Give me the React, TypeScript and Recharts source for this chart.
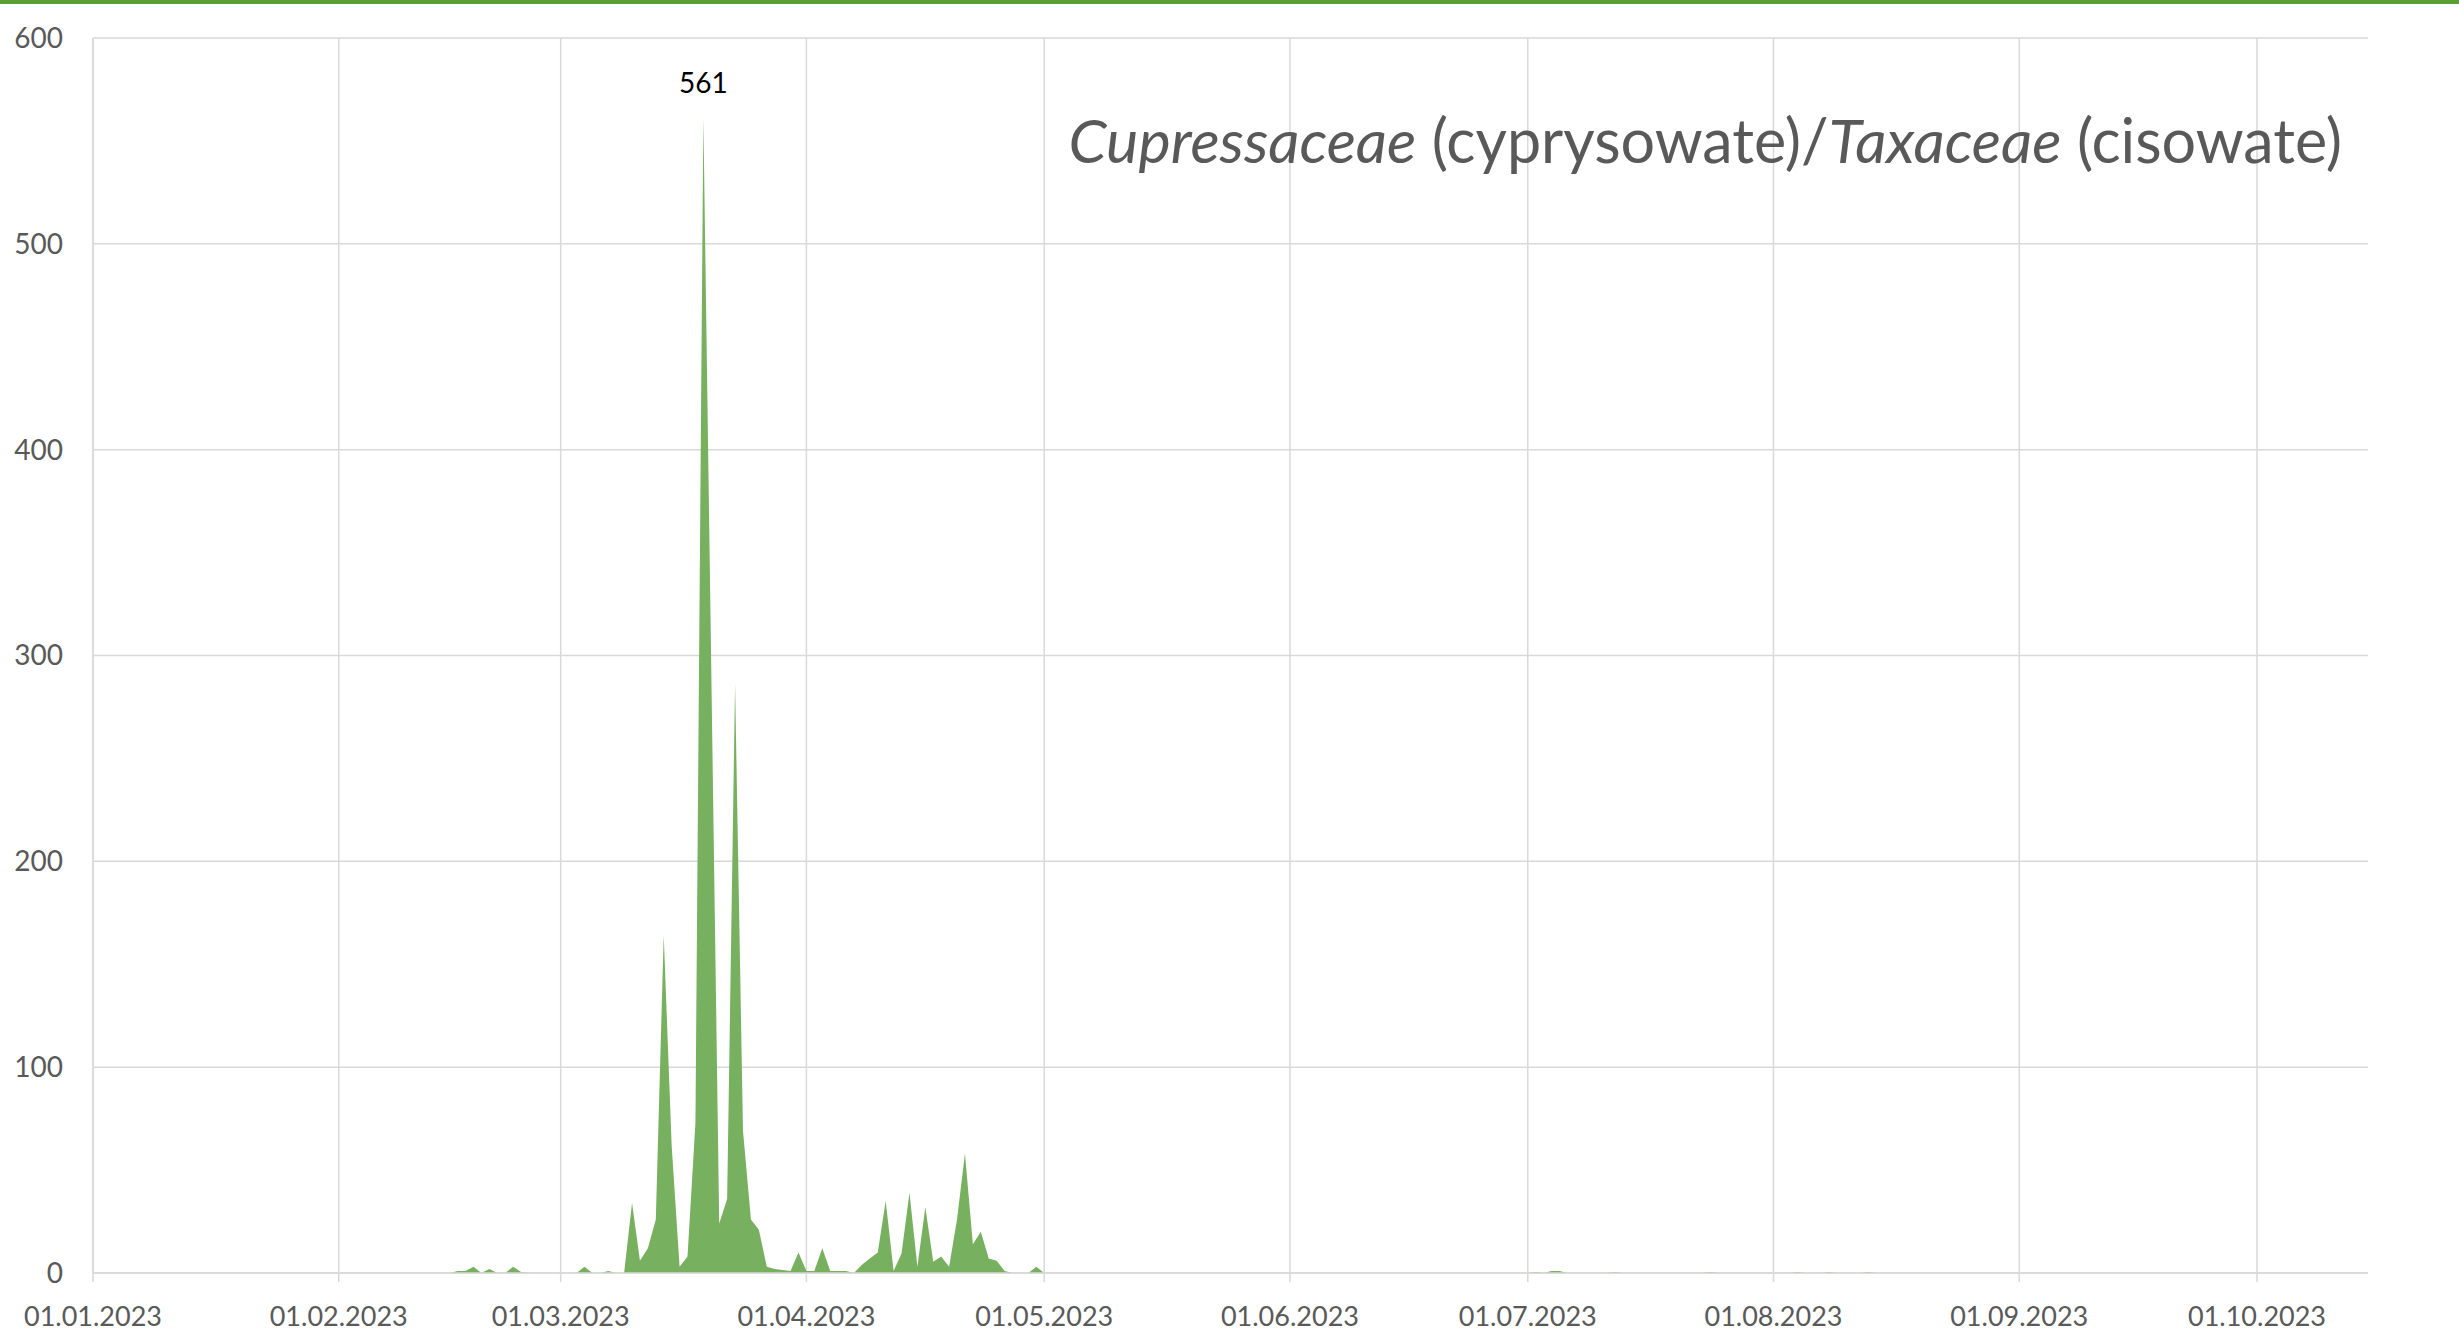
import { AreaChart, Area, XAxis, YAxis, CartesianGrid, LabelList } from 'recharts'

// pollen counts (date -> value); zero runs only where the area touches the baseline
const dates = [
  '2023-02-15', '2023-02-16', '2023-02-17', '2023-02-18', '2023-02-19', '2023-02-20', '2023-02-21',
  '2023-02-22', '2023-02-23', '2023-02-24', '2023-02-25', '2023-03-03', '2023-03-04', '2023-03-05',
  '2023-03-06', '2023-03-07', '2023-03-08', '2023-03-09', '2023-03-10', '2023-03-11', '2023-03-12',
  '2023-03-13', '2023-03-14', '2023-03-15', '2023-03-16', '2023-03-17', '2023-03-18', '2023-03-19',
  '2023-03-21', '2023-03-22', '2023-03-23', '2023-03-24', '2023-03-25', '2023-03-26', '2023-03-27',
  '2023-03-28', '2023-03-29', '2023-03-30', '2023-03-31', '2023-04-01', '2023-04-02', '2023-04-03',
  '2023-04-04', '2023-04-05', '2023-04-06', '2023-04-07', '2023-04-08', '2023-04-09', '2023-04-10',
  '2023-04-11', '2023-04-12', '2023-04-13', '2023-04-14', '2023-04-15', '2023-04-16', '2023-04-17',
  '2023-04-18', '2023-04-19', '2023-04-20', '2023-04-21', '2023-04-22', '2023-04-23', '2023-04-24',
  '2023-04-25', '2023-04-26', '2023-04-27', '2023-04-29', '2023-04-30', '2023-05-01', '2023-07-01',
  '2023-07-02', '2023-07-03', '2023-07-04', '2023-07-05', '2023-07-06', '2023-07-11', '2023-07-12',
  '2023-07-13', '2023-07-23', '2023-07-24', '2023-07-25', '2023-08-03', '2023-08-04', '2023-08-05',
  '2023-08-07', '2023-08-08', '2023-08-09', '2023-08-12', '2023-08-13', '2023-08-14',
]
const values = [
  0, 1, 1, 3, 0, 2, 0,
  0, 3, 0.5, 0, 0, 3, 0,
  0, 1, 0, 0, 34, 6, 12,
  26, 164, 62, 3, 8, 73, 561,
  24, 36, 286, 69, 26, 21, 3,
  2, 1.5, 1, 10, 1, 1, 12,
  1, 1, 1, 0, 4, 7, 10,
  35, 1, 9.5, 39, 3, 32, 5.5,
  8, 3, 26, 58, 14, 20, 7,
  6, 1, 0, 0, 3, 0, 0,
  0.5, 0, 1, 1, 0, 0, 0.5,
  0, 0, 0.5, 0, 0, 0.5, 0,
  0, 0.5, 0, 0, 0.5, 0,
]

const tickDates = [
  '2023-01-01', '2023-02-01', '2023-03-01', '2023-04-01', '2023-05-01',
  '2023-06-01', '2023-07-01', '2023-08-01', '2023-09-01', '2023-10-01',
]
const tickLabels = [
  '01.01.2023', '01.02.2023', '01.03.2023', '01.04.2023', '01.05.2023',
  '01.06.2023', '01.07.2023', '01.08.2023', '01.09.2023', '01.10.2023',
]
const yTicks = [0, 100, 200, 300, 400, 500, 600]

const dayOf = (d: string) => (Date.parse(d) - Date.parse('2023-01-01')) / 86400000

const data = dates.map((d, i) => ({ day: dayOf(d), value: values[i] }))
const xTicks = tickDates.map(dayOf)
const peak = Math.max(...values)

const FONT = 'Lato, "Open Sans", sans-serif'
const GRID = '#d9d9d9'

const renderPeakLabel = (props: any) => {
  const { x, y, value } = props
  if (value !== peak) return <g />
  return (
    <text x={x} y={y - 36} textAnchor="middle" dominantBaseline="central"
      fontFamily={FONT} fontSize={28} fill="#000">
      {value}
    </text>
  )
}

export default function App() {
  return (
    <div style={{ position: 'absolute', left: 0, top: 0, width: 2459, height: 1340, background: '#fff' }}>
      <div style={{ position: 'absolute', left: 0, top: 0, width: 2459, height: 4, background: '#5a9f36' }} />
      <AreaChart width={2459} height={1340} data={data}
        margin={{ top: 38, right: 91, bottom: 0, left: 0 }}>
        <CartesianGrid stroke={GRID} strokeWidth={1.5} horizontalValues={yTicks} verticalValues={xTicks} />
        <XAxis dataKey="day" type="number" domain={[0, 287]} ticks={xTicks} height={67}
          tickFormatter={(v: number) => tickLabels[xTicks.indexOf(v)] ?? ''}
          axisLine={{ stroke: GRID, strokeWidth: 1.5 }}
          tickLine={{ stroke: GRID, strokeWidth: 1.5 }} tickSize={9} tickMargin={25}
          tick={{ fontFamily: FONT, fontSize: 27, fill: '#595959' }} interval={0} />
        <YAxis domain={[0, 600]} ticks={yTicks} width={93}
          axisLine={{ stroke: GRID, strokeWidth: 1.5 }} tickLine={false}
          tickSize={0} tickMargin={30}
          tick={{ fontFamily: FONT, fontSize: 28, fill: '#595959' }} />
        <Area type="linear" dataKey="value" fill="#77b05f" fillOpacity={1} stroke="none"
          isAnimationActive={false}>
          <LabelList dataKey="value" content={renderPeakLabel} />
        </Area>
      </AreaChart>
      <svg width={2459} height={1340} style={{ position: 'absolute', left: 0, top: 0, pointerEvents: 'none' }}>
        <text x={2342} y={163} textAnchor="end" fontFamily={FONT} fontSize={61} fill="#595959">
          <tspan fontStyle="italic">Cupressaceae</tspan>
          <tspan> (cyprysowate)/</tspan>
          <tspan fontStyle="italic">Taxaceae</tspan>
          <tspan> (cisowate)</tspan>
        </text>
      </svg>
    </div>
  )
}
